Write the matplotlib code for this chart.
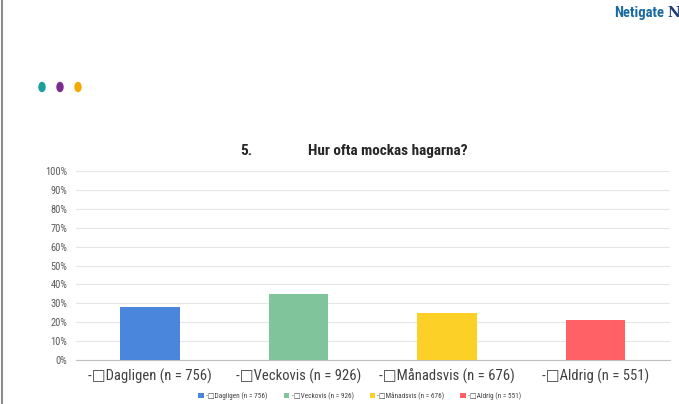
import matplotlib
matplotlib.use("Agg")
import matplotlib.pyplot as plt
from matplotlib import font_manager
from matplotlib.patches import Ellipse
from matplotlib.lines import Line2D
from matplotlib.ticker import PercentFormatter

# Данные
categories = ["Dagligen (n = 756)", "Veckovis (n = 926)", "Månadsvis (n = 676)", "Aldrig (n = 551)"]
values = [28, 35, 25, 21]
colors = ["#4A86DB", "#80C49B", "#FCD026", "#FF6166"]
labels = ["-\u25a1" + c for c in categories]

# Узкий шрифт, если есть
names = {f.name for f in font_manager.fontManager.ttflist}
narrow = "DejaVu Sans"
for n in ["Roboto Condensed", "Liberation Sans Narrow", "DejaVu Sans Condensed"]:
    if n in names:
        narrow = n
        break
plt.rcParams["font.family"] = [narrow, "DejaVu Sans"]

fig = plt.figure(figsize=(6.79, 4.04), dpi=100)

# Подложка для декора в пикселях
deco = fig.add_axes([0, 0, 1, 1])
deco.set_xlim(0, 679)
deco.set_ylim(404, 0)
deco.axis("off")
deco.add_line(Line2D([2, 2], [0, 404], color="#8c8c8c", lw=1.5))
for x, c in zip([42, 60, 78], ["#1A9E9A", "#7B2D8E", "#F5A800"]):
    deco.add_patch(Ellipse((x, 87), 6, 9, color=c))
deco.text(664, 13, "Netigate", fontsize=10.5, fontweight="bold", color="#1A6AA0",
          va="center", ha="right")
deco.text(667, 13, "N", fontsize=10, fontweight="bold", color="#1F3F6E",
          va="center", ha="left", family="DejaVu Serif")
deco.text(240, 151, "5.", fontsize=11, fontweight="bold", color="#262626",
          va="center", ha="left")
deco.text(308, 151, "Hur ofta mockas hagarna?", fontsize=11, fontweight="bold",
          color="#262626", va="center", ha="left")

ax = fig.add_axes([75.75 / 679, 44 / 404, 594 / 679, 189 / 404])
x = range(len(categories))
bars = ax.bar(x, values, width=0.4, color=colors, zorder=3, label=labels)
ax.set_xlim(-0.5, 3.5)
ax.set_ylim(0, 100)
ax.set_yticks(range(0, 101, 10))
ax.yaxis.set_major_formatter(PercentFormatter(decimals=0))
ax.set_xticks(list(x))
ax.set_xticklabels(labels, fontsize=10.5, color="#404040")
ax.tick_params(axis="y", labelsize=7.5, colors="#595959", length=0, pad=6)
ax.tick_params(axis="x", length=0, pad=6)
ax.grid(axis="y", color="#e6e6e6", lw=0.8, zorder=0)
for s in ["top", "right", "left"]:
    ax.spines[s].set_visible(False)
ax.spines["bottom"].set_color("#bfbfbf")

fig.legend(handles=bars, labels=labels, loc="center", bbox_to_anchor=(360 / 679, 1 - 396 / 404),
           ncol=4, frameon=False, fontsize=5.2, handlelength=0.7, handleheight=0.7,
           columnspacing=2.2, handletextpad=0.4, labelcolor="#404040")

plt.savefig("out.png", dpi=100)
